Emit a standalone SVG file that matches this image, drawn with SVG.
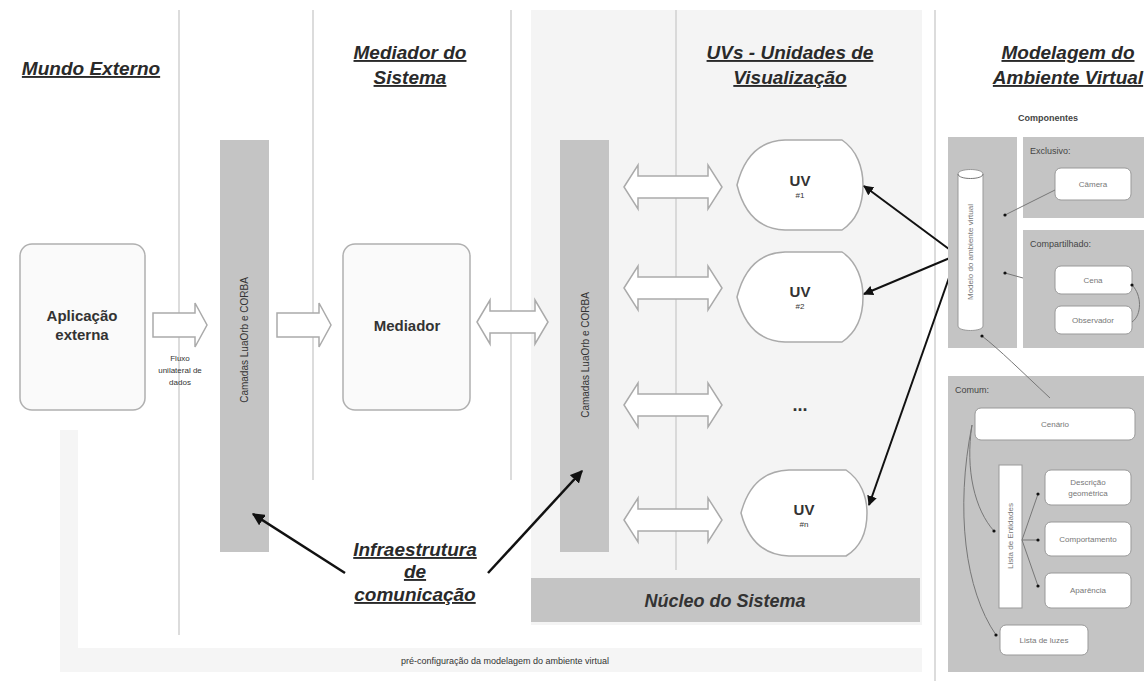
<svg xmlns="http://www.w3.org/2000/svg" width="1144" height="681" viewBox="0 0 1144 681">
<defs>
<style>
.h{font-family:"Liberation Sans",Arial,sans-serif;font-weight:bold;font-style:italic;font-size:19px;fill:#2a2a2a;text-decoration:underline;text-anchor:middle}
.b{font-family:"Liberation Sans",Arial,sans-serif;font-weight:bold;font-size:15px;fill:#333;text-anchor:middle}
.s{font-family:"Liberation Sans",Arial,sans-serif;font-size:8px;fill:#333;text-anchor:middle}
.sv{font-family:"Liberation Sans",Arial,sans-serif;font-size:10px;fill:#333;text-anchor:middle}
.g{font-family:"Liberation Sans",Arial,sans-serif;font-size:8px;fill:#777;text-anchor:middle}
.gl{font-family:"Liberation Sans",Arial,sans-serif;font-size:9px;fill:#444}
.vl{stroke:#d0d0d0;stroke-width:1.5}
.bar{fill:#c4c4c4}
.box{fill:#fafafa;stroke:#b0b0b0;stroke-width:1.5}
.arr{fill:#fff;stroke:#aaa;stroke-width:1.5}
.uv{fill:#fff;stroke:#aaa;stroke-width:1.5}
.pnl{fill:#c4c4c4}
.wb{fill:#fff;stroke:#999;stroke-width:1}
.k{stroke:#111;stroke-width:2.5;fill:none}
.t{stroke:#777;stroke-width:1;fill:none}
</style>
<marker id="ah" viewBox="0 0 10 10" refX="9" refY="5" markerWidth="5" markerHeight="5" orient="auto"><path d="M0,0 L10,5 L0,10 Z" fill="#111"/></marker>
<marker id="dot" viewBox="0 0 10 10" refX="5" refY="5" markerWidth="4" markerHeight="4"><circle cx="5" cy="5" r="4" fill="#111"/></marker>
</defs>
<rect width="1144" height="681" fill="#fff"/>
<rect x="531" y="10" width="391" height="615" fill="#f4f4f4"/>
<path d="M60,430 L78,430 L78,648 L922,648 L922,672 L60,672 Z" fill="#f5f5f5"/>
<g id="dividers">
<line class="vl" x1="179" y1="10" x2="179" y2="635"/>
<line class="vl" x1="313" y1="10" x2="313" y2="480"/>
<line class="vl" x1="511" y1="10" x2="511" y2="480"/>
<line class="vl" x1="676" y1="10" x2="676" y2="570"/>
<line class="vl" x1="935" y1="10" x2="935" y2="681"/>
</g>
<g id="headings">
<text class="h" x="91" y="75">Mundo Externo</text>
<text class="h" x="410" y="59">Mediador do</text>
<text class="h" x="410" y="84">Sistema</text>
<text class="h" x="790" y="59">UVs - Unidades de</text>
<text class="h" x="790" y="84">Visualização</text>
<text class="h" x="1068" y="59">Modelagem do</text>
<text class="h" x="1068" y="84">Ambiente Virtual</text>
</g>
<g id="aplicacao">
<rect class="box" x="20" y="244" width="125" height="166" rx="12"/>
<text class="b" x="82" y="321">Aplicação</text>
<text class="b" x="82" y="340">externa</text>
</g>
<g id="camadas1">
<rect class="bar" x="220" y="140" width="49" height="412"/>
<text class="sv" transform="translate(248,340) rotate(-90)">Camadas LuaOrb e CORBA</text>
</g>
<g id="mediador">
<rect class="box" x="343" y="244" width="127" height="166" rx="12"/>
<text class="b" x="407" y="331">Mediador</text>
</g>
<g id="camadas2">
<rect class="bar" x="560" y="140" width="49" height="412"/>
<text class="sv" transform="translate(589,355) rotate(-90)">Camadas LuaOrb e CORBA</text>
</g>
<g id="uv1">
<path class="uv" d="M737,185 Q748,141 785,140 L842,140 C857,150 863,168 863,185 C863,204 857,220 842,230 L785,230 Q748,229 737,185Z"/>
<text class="b" x="800" y="186">UV</text>
<text class="s" x="800" y="198">#1</text>
</g>
<g id="uv2">
<path class="uv" d="M737,297 Q748,253 785,252 L842,252 C857,262 863,280 863,297 C863,316 857,332 842,342 L785,342 Q748,341 737,297Z"/>
<text class="b" x="800" y="297">UV</text>
<text class="s" x="800" y="309">#2</text>
</g>
<g id="dots">
<text class="b" x="800" y="411" style="font-size:18px">...</text>
</g>
<g id="uvn">
<path class="uv" d="M741,513 Q752,471 789,470 L846,470 C861,480 867,497 867,513 C867,532 861,547 846,556 L789,556 Q752,555 741,513Z"/>
<text class="b" x="804" y="515">UV</text>
<text class="s" x="804" y="527">#n</text>
</g>
<g id="nucleo">
<rect class="bar" x="531" y="578" width="389" height="44"/>
<text class="b" x="725" y="607" style="font-style:italic;font-size:18px">Núcleo do Sistema</text>
</g>
<g id="infra">
<text class="h" x="415" y="556">Infraestrutura</text>
<text class="h" x="415" y="578">de</text>
<text class="h" x="415" y="601">comunicação</text>
</g>
<g id="fluxo">
<text class="s" x="180" y="361">Fluxo</text>
<text class="s" x="180" y="373">unilateral de</text>
<text class="s" x="180" y="385">dados</text>
</g>
<text class="s" x="505" y="664" style="font-size:9px">pré-configuração da modelagem do ambiente virtual</text>
<g id="connectors">
<path class="arr" d="M153,313 L195,313 L195,303 L207,325 L195,347 L195,337 L153,337 Z"/>
<path class="arr" d="M277,313 L319,313 L319,303 L331,325 L319,347 L319,337 L277,337 Z"/>
<path class="arr" d="M477,322 L490,300 L490,311 L535,311 L535,300 L548,322 L535,344 L535,333 L490,333 L490,344 Z"/>
<path class="arr" d="M624,187 L638,165 L638,176 L708,176 L708,165 L722,187 L708,209 L708,198 L638,198 L638,209 Z"/>
<path class="arr" d="M624,288 L638,266 L638,277 L708,277 L708,266 L722,288 L708,310 L708,299 L638,299 L638,310 Z"/>
<path class="arr" d="M624,405 L638,383 L638,394 L708,394 L708,383 L722,405 L708,427 L708,416 L638,416 L638,427 Z"/>
<path class="arr" d="M624,520 L638,498 L638,509 L708,509 L708,498 L722,520 L708,542 L708,531 L638,531 L638,542 Z"/>
<line class="k" x1="345" y1="573" x2="253" y2="514" marker-end="url(#ah)"/>
<line class="k" x1="488" y1="573" x2="582" y2="471" marker-end="url(#ah)"/>
<line class="k" x1="957" y1="255" x2="864" y2="186" marker-end="url(#ah)" style="stroke-width:2"/>
<line class="k" x1="957" y1="255" x2="864" y2="294" marker-end="url(#ah)" style="stroke-width:2"/>
<line class="k" x1="957" y1="255" x2="869" y2="505" marker-end="url(#ah)" style="stroke-width:2"/>
</g>
<g id="componentes">
<text class="gl" x="1048" y="121" style="font-weight:bold;text-anchor:middle">Componentes</text>
</g>
<g id="modelo">
<rect class="pnl" x="948" y="137" width="69" height="211"/>
<path class="wb" d="M958,174 C958,168 983,168 983,174 L983,326 C983,332 958,332 958,326 Z"/>
<path class="t" d="M958,174 C958,180 983,180 983,174"/>
<text class="g" transform="translate(973,252) rotate(-90)">Modelo do ambiente virtual</text>
</g>
<g id="exclusivo">
<rect class="pnl" x="1023" y="137" width="121" height="81"/>
<text class="gl" x="1030" y="154">Exclusivo:</text>
<rect class="wb" x="1055" y="168" width="76" height="32" rx="6"/>
<text class="g" x="1093" y="187">Câmera</text>
</g>
<g id="compartilhado">
<rect class="pnl" x="1023" y="230" width="121" height="118"/>
<text class="gl" x="1030" y="247">Compartilhado:</text>
<rect class="wb" x="1055" y="266" width="77" height="28" rx="6"/>
<text class="g" x="1093" y="283">Cena</text>
<rect class="wb" x="1055" y="306" width="77" height="28" rx="6"/>
<text class="g" x="1093" y="323">Observador</text>
</g>
<g id="comum">
<rect class="pnl" x="948" y="376" width="196" height="296"/>
<text class="gl" x="955" y="393">Comum:</text>
<rect class="wb" x="975" y="408" width="160" height="32" rx="6"/>
<text class="g" x="1055" y="427">Cenário</text>
<rect class="wb" x="999" y="465" width="23" height="143"/>
<text class="g" transform="translate(1013,536) rotate(-90)">Lista de Entidades</text>
<rect class="wb" x="1045" y="470" width="86" height="35" rx="6"/>
<text class="g" x="1088" y="485">Descrição</text>
<text class="g" x="1088" y="496">geométrica</text>
<rect class="wb" x="1045" y="522" width="86" height="34" rx="6"/>
<text class="g" x="1088" y="542">Comportamento</text>
<rect class="wb" x="1045" y="573" width="86" height="35" rx="6"/>
<text class="g" x="1088" y="593">Aparência</text>
<rect class="wb" x="1000" y="625" width="88" height="30" rx="6"/>
<text class="g" x="1044" y="643">Lista de luzes</text>
</g>
<g id="tree-links">
<line class="t" x1="1055" y1="190" x2="1005" y2="215" marker-end="url(#dot)"/>
<line class="t" x1="1023" y1="278" x2="1005" y2="273" marker-end="url(#dot)"/>
<path class="t" d="M1050,398 C1020,370 1000,350 982,336" marker-end="url(#dot)"/>
<path class="t" d="M1132,285 C1142,295 1142,315 1132,322" marker-start="url(#dot)"/>
<path class="t" d="M972,425 C965,470 975,510 994,531" marker-end="url(#dot)"/>
<path class="t" d="M972,425 C955,510 965,590 996,635" marker-end="url(#dot)"/>
<path class="t" d="M1022,540 L1038,494" marker-end="url(#dot)"/>
<path class="t" d="M1022,540 L1038,540" marker-end="url(#dot)"/>
<path class="t" d="M1022,540 L1038,586" marker-end="url(#dot)"/>
</g>
</svg>
